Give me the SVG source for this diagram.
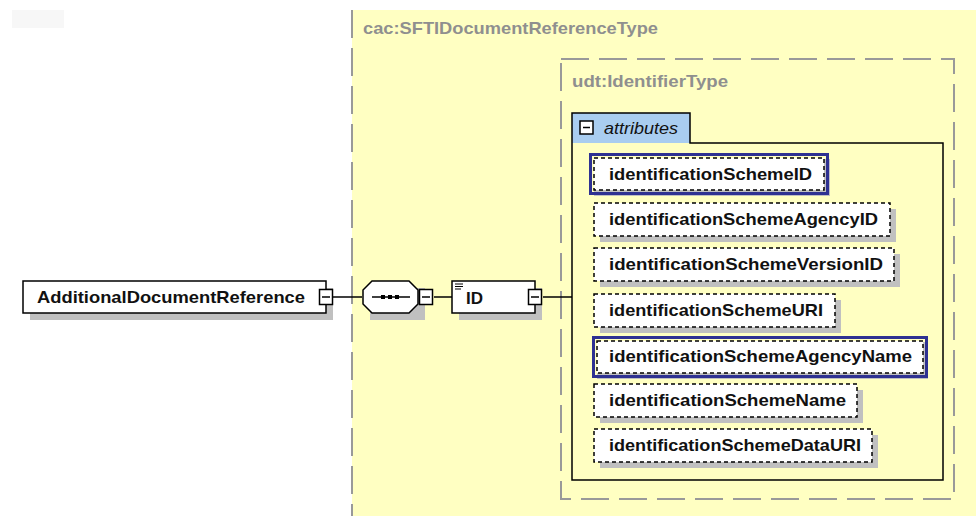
<svg xmlns="http://www.w3.org/2000/svg" width="976" height="516" viewBox="0 0 976 516">
<style>
  text { font-family: "Liberation Sans", Arial, sans-serif; font-weight: bold; font-size: 17px; fill: #111; }
  .title { fill: #8f8f8f; }
  .ital { font-weight: normal; font-style: italic; }
  .shadow { fill: #c0c0c0; }
  .box { fill: #fff; stroke: #000; stroke-width: 1.5; }
  .attr { fill: #fff; stroke: #000; stroke-width: 1.5; stroke-dasharray: 4 3; }
  .blue { fill: none; stroke: #2e3192; stroke-width: 3; }
  .frame { fill: none; stroke: #999; stroke-width: 2; stroke-dasharray: 28 10; }
  .icon { fill: #fff; stroke: #000; stroke-width: 1.5; }
  .line { stroke: #000; stroke-width: 1.5; fill: none; }
</style>
<rect x="12" y="10" width="52" height="18" fill="#f7f7f7"/>
<g id="sftiType">
  <rect x="352" y="10" width="624" height="506" fill="#ffffc2"/>
  <line x1="352" y1="10" x2="352" y2="516" class="frame"/>
  <text x="363" y="34" class="title" textLength="295" lengthAdjust="spacingAndGlyphs">cac:SFTIDocumentReferenceType</text>
</g>
<g id="identifierType">
  <rect x="561" y="59" width="393" height="440" class="frame"/>
  <text x="572" y="87" class="title" textLength="156" lengthAdjust="spacingAndGlyphs">udt:IdentifierType</text>
</g>
<g id="attributes">
  <path d="M572,113 H690 V143 H572 Z" fill="#a9cdf0"/>
  <path d="M572,480 V113 H690 V143 H943 V480 Z" class="line"/>
  <rect x="580" y="121" width="13" height="13" class="icon"/>
  <line x1="583" y1="127.5" x2="590" y2="127.5" class="line"/>
  <text x="604" y="134" class="ital" textLength="74" lengthAdjust="spacingAndGlyphs">attributes</text>
</g>
<g id="connectors">
  <line x1="333" y1="297" x2="362" y2="297" class="line"/>
  <line x1="434" y1="297" x2="452" y2="297" class="line"/>
  <line x1="543" y1="297" x2="572" y2="297" class="line"/>
</g>
<g id="additionalDocumentReference">
  <rect x="30" y="288" width="303" height="32" class="shadow"/>
  <rect x="23" y="281" width="303" height="32" class="box"/>
  <text x="37" y="303" textLength="268" lengthAdjust="spacingAndGlyphs">AdditionalDocumentReference</text>
  <rect x="319.5" y="289.5" width="13" height="15" class="icon"/>
  <line x1="322" y1="297" x2="330" y2="297" class="line"/>
</g>
<g id="sequence">
  <path d="M370,288 L425,288 L425,320 L370,320 Z" class="shadow"/>
  <path d="M372,281 H409 L418,290 V304 L409,313 H372 L363,304 V290 Z" class="box"/>
  <line x1="372" y1="297" x2="410" y2="297" class="line"/>
  <rect x="381" y="295" width="4" height="4" fill="#000"/>
  <rect x="388" y="295" width="4" height="4" fill="#000"/>
  <rect x="395" y="295" width="4" height="4" fill="#000"/>
  <rect x="419.5" y="289.5" width="13" height="15" class="icon"/>
  <line x1="422" y1="297" x2="430" y2="297" class="line"/>
</g>
<g id="ID">
  <rect x="459" y="288" width="83" height="32" class="shadow"/>
  <rect x="452" y="281" width="83" height="32" class="box"/>
  <line x1="455" y1="284" x2="463" y2="284" stroke="#000" stroke-width="1"/>
  <line x1="455" y1="286.5" x2="463" y2="286.5" stroke="#000" stroke-width="1"/>
  <line x1="455" y1="289" x2="461" y2="289" stroke="#000" stroke-width="1"/>
  <text x="466" y="304" textLength="17" lengthAdjust="spacingAndGlyphs">ID</text>
  <rect x="528.5" y="289.5" width="13" height="15" class="icon"/>
  <line x1="531" y1="297" x2="539" y2="297" class="line"/>
</g>
<g id="identificationSchemeID">
  <rect x="594" y="159" width="236" height="37" class="shadow"/>
  <rect x="590.5" y="154.5" width="237" height="39" fill="#fff" class="blue"/>
  <rect x="594" y="158" width="230" height="32" class="attr"/>
  <text x="609" y="180" textLength="203" lengthAdjust="spacingAndGlyphs">identificationSchemeID</text>
</g>
<g id="identificationSchemeAgencyID">
  <rect x="600" y="209" width="296" height="33" class="shadow"/>
  <rect x="594" y="203" width="296" height="33" class="attr"/>
  <text x="609" y="225" textLength="269" lengthAdjust="spacingAndGlyphs">identificationSchemeAgencyID</text>
</g>
<g id="identificationSchemeVersionID">
  <rect x="600" y="254" width="300" height="33" class="shadow"/>
  <rect x="594" y="248" width="300" height="33" class="attr"/>
  <text x="609" y="270" textLength="274" lengthAdjust="spacingAndGlyphs">identificationSchemeVersionID</text>
</g>
<g id="identificationSchemeURI">
  <rect x="600" y="300" width="241" height="33" class="shadow"/>
  <rect x="594" y="294" width="241" height="33" class="attr"/>
  <text x="609" y="316" textLength="214" lengthAdjust="spacingAndGlyphs">identificationSchemeURI</text>
</g>
<g id="identificationSchemeAgencyName">
  <rect x="597" y="342" width="331" height="37" class="shadow"/>
  <rect x="593.5" y="337.5" width="333" height="39" fill="#fff" class="blue"/>
  <rect x="597" y="341" width="326" height="32" class="attr"/>
  <text x="609" y="362" textLength="303" lengthAdjust="spacingAndGlyphs">identificationSchemeAgencyName</text>
</g>
<g id="identificationSchemeName">
  <rect x="600" y="390" width="263" height="33" class="shadow"/>
  <rect x="594" y="384" width="263" height="33" class="attr"/>
  <text x="609" y="406" textLength="237" lengthAdjust="spacingAndGlyphs">identificationSchemeName</text>
</g>
<g id="identificationSchemeDataURI">
  <rect x="600" y="435" width="278" height="33" class="shadow"/>
  <rect x="594" y="429" width="278" height="33" class="attr"/>
  <text x="609" y="451" textLength="252" lengthAdjust="spacingAndGlyphs">identificationSchemeDataURI</text>
</g>
</svg>
